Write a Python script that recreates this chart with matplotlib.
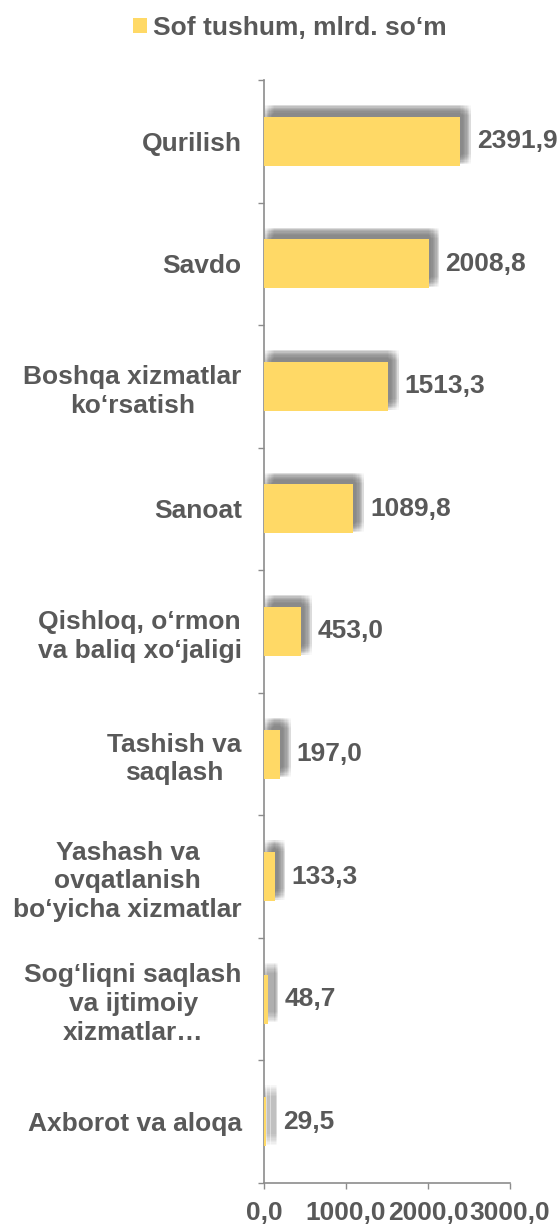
import numpy as np
import matplotlib.pyplot as plt
import matplotlib.patheffects as pe
from matplotlib.patches import Patch

categories = [
    "Qurilish",
    "Savdo",
    "Boshqa xizmatlar\nko‘rsatish",
    "Sanoat",
    "Qishloq, o‘rmon\nva baliq xo‘jaligi",
    "Tashish va\nsaqlash",
    "Yashash va\novqatlanish\nbo‘yicha xizmatlar",
    "Sog‘liqni saqlash\nva ijtimoiy\nxizmatlar…",
    "Axborot va aloqa",
]
values = [2391.9, 2008.8, 1513.3, 1089.8, 453.0, 197.0, 133.3, 48.7, 29.5]
x_ticks = [0, 1000, 2000, 3000]
series_name = "Sof tushum, mlrd. so‘m"

bar_color = "#FFD966"
text_color = "#595959"
axis_color = "#8C8C8C"
fsize = 19

plt.rcParams['font.family'] = ['Liberation Sans', 'DejaVu Sans']
plt.rcParams['font.weight'] = 'bold'

fig = plt.figure(figsize=(5.6, 12.25), dpi=100)
ax = fig.add_axes([264 / 560, 1 - 1183 / 1225, (510 - 264) / 560, (1183 - 80) / 1225])

y = np.arange(len(categories))

# soft shadow: many faint offset copies (blurred look)
shadows = []
for dx in np.linspace(0.0, 7.5, 9):
    for dy in np.linspace(1.0, 8.5, 9):
        shadows.append(pe.SimplePatchShadow(offset=(dx, dy), shadow_rgbFace='#8a8a8a', alpha=0.035))
shadows.append(pe.Normal())

bars = ax.barh(y, values, height=0.4, color=bar_color, linewidth=0, zorder=3)
for b in bars:
    b.set_path_effects(shadows)

for yi, v in zip(y, values):
    ax.annotate(f"{v:.1f}".replace('.', ','), (v, yi), xytext=(12, 0), textcoords='offset points',
                ha='left', va='center', fontsize=fsize, color=text_color, fontweight='bold')

ax.set_xlim(0, 3000)
ax.set_ylim(len(categories) - 0.5, -0.5)

ax.set_xticks(x_ticks)
ax.set_xticklabels([f"{t:.1f}".replace('.', ',') for t in x_ticks])
ax.tick_params(axis='x', direction='out', length=4, width=1, color=axis_color,
               labelsize=fsize, labelcolor=text_color, pad=9)

ax.set_yticks(y)
ax.set_yticklabels(categories)
ax.set_yticks(np.arange(-0.5, len(categories), 1.0), minor=True)
ax.tick_params(axis='y', which='major', length=0, labelsize=fsize, labelcolor=text_color, pad=16)
ax.tick_params(axis='y', which='minor', direction='out', length=4, width=1, color=axis_color)
for lbl in ax.get_yticklabels():
    lbl.set_multialignment('center')
    lbl.set_linespacing(1.25)

for s in ['top', 'right']:
    ax.spines[s].set_visible(False)
for s in ['left', 'bottom']:
    ax.spines[s].set_color(axis_color)
    ax.spines[s].set_linewidth(1.2)

fig.legend(handles=[Patch(facecolor=bar_color, label=series_name)], loc='center',
           bbox_to_anchor=(290 / 560, 1 - 28 / 1225), frameon=False, fontsize=fsize,
           handlelength=0.53, handleheight=0.53, handletextpad=0.25, labelcolor=text_color)

fig.savefig('out.png', dpi=100)
